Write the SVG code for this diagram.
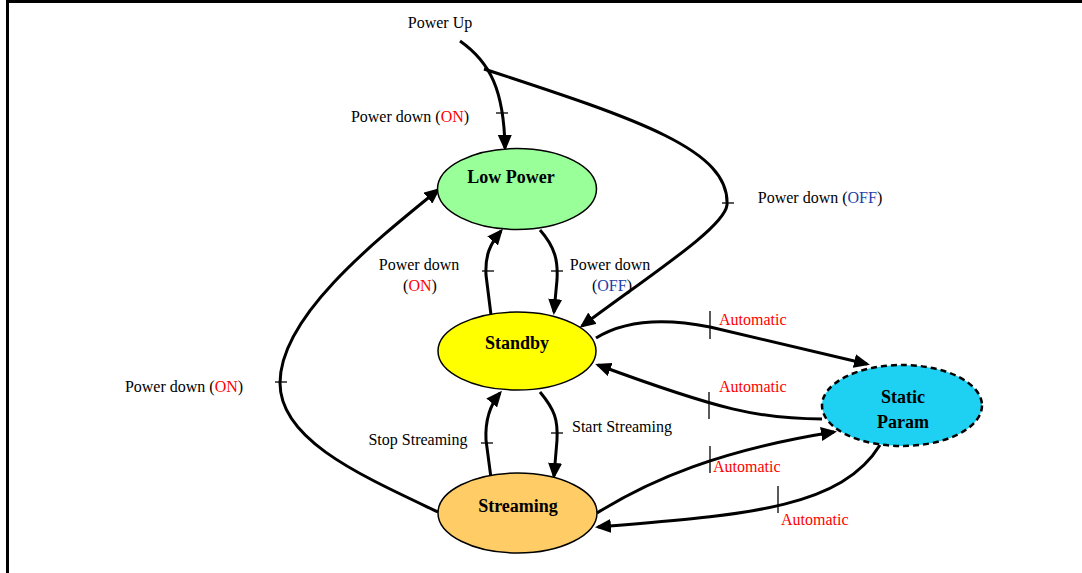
<svg xmlns="http://www.w3.org/2000/svg" width="1082" height="573" viewBox="0 0 1082 573">
  <style>
    .lbl { font-family: "Liberation Serif", "Times New Roman", serif; font-size: 16px; fill: #000; }
    .node-txt { font-family: "Liberation Serif", "Times New Roman", serif; font-size: 18px; font-weight: bold; fill: #000; text-anchor: middle; }
    .on { fill: #ff0000; }
    .off { fill: #2040a8; }
    .auto { fill: #ff0000; }
    .state { stroke: #000; stroke-width: 1.5; }
    .edge { fill: none; stroke: #000; stroke-width: 3; marker-end: url(#arrow); }
    .edge-plain { fill: none; stroke: #000; stroke-width: 3; }
    .tick { stroke: #000; stroke-width: 1.3; }
    .frame { stroke: #000; stroke-width: 3; }
  </style>
  <defs>
    <marker id="arrow" markerUnits="userSpaceOnUse" markerWidth="16" markerHeight="14" viewBox="0 0 16 14" refX="13" refY="7" orient="auto">
      <path d="M0,0 L16,7 L0,14 Z" fill="#000"/>
    </marker>
  </defs>

  <rect width="1082" height="573" fill="#fff"/>
  <!-- page frame -->
  <line class="frame" x1="6" y1="1.5" x2="1082" y2="1.5"/>
  <line class="frame" x1="7.5" y1="0" x2="7.5" y2="573"/>

  <!-- transitions -->
  <g id="connectors">
    <!-- power up entry -->
    <path class="edge" d="M460,41 C490,62 504,90 505,148"/>
    <line class="tick" x1="496" y1="113" x2="508" y2="113"/>
    <!-- power down (OFF) from power-up branch to standby -->
    <path class="edge" d="M484,69 C640,120 730,150 727,205 C724,228 650,275 582,326"/>
    <line class="tick" x1="722" y1="203" x2="734" y2="203"/>
    <!-- low power -> standby -->
    <path class="edge" d="M540,230 C556,248 558,262 557,280 L554,312"/>
    <line class="tick" x1="551" y1="271" x2="563" y2="271"/>
    <!-- standby -> low power -->
    <path class="edge" d="M491,315 L486,275 C485,255 490,244 501,231"/>
    <line class="tick" x1="482" y1="271" x2="494" y2="271"/>
    <!-- standby -> streaming -->
    <path class="edge" d="M540,392 C555,410 558,420 557,440 L554,476"/>
    <line class="tick" x1="551" y1="433" x2="563" y2="433"/>
    <!-- streaming -> standby -->
    <path class="edge" d="M491,478 L486,440 C485,420 490,405 500,393"/>
    <line class="tick" x1="481" y1="443" x2="493" y2="443"/>
    <!-- streaming -> low power -->
    <path class="edge" d="M438,512 C360,475 280,440 280,383 C280,318 370,245 438,190"/>
    <line class="tick" x1="275" y1="382" x2="287" y2="382"/>
    <!-- standby -> static param -->
    <path class="edge" d="M596,338 C625,320 665,318 710,327 L867,364"/>
    <line class="tick" x1="710" y1="311" x2="710" y2="339"/>
    <!-- static param -> standby -->
    <path class="edge" d="M822,419 C760,419 720,410 598,365"/>
    <line class="tick" x1="709" y1="392" x2="709" y2="419"/>
    <!-- streaming -> static param -->
    <path class="edge" d="M597,513 C650,480 720,450 834,432"/>
    <line class="tick" x1="710" y1="446" x2="710" y2="473"/>
    <!-- static param -> streaming -->
    <path class="edge" d="M880,445 C840,510 740,515 598,527"/>
    <line class="tick" x1="778" y1="486" x2="778" y2="513"/>
  </g>

  <!-- transition labels -->
  <g id="labels">
    <text class="lbl" x="440" y="28" text-anchor="middle">Power Up</text>
    <text class="lbl" x="410" y="122" text-anchor="middle">Power down (<tspan class="on">ON</tspan>)</text>
    <text class="lbl" x="820" y="203" text-anchor="middle">Power down (<tspan class="off">OFF</tspan>)</text>
    <text class="lbl" x="419" y="270" text-anchor="middle">Power down</text>
    <text class="lbl" x="420" y="291" text-anchor="middle">(<tspan class="on">ON</tspan>)</text>
    <text class="lbl" x="610" y="270" text-anchor="middle">Power down</text>
    <text class="lbl" x="612" y="291" text-anchor="middle">(<tspan class="off">OFF</tspan>)</text>
    <text class="lbl" x="184" y="392" text-anchor="middle">Power down (<tspan class="on">ON</tspan>)</text>
    <text class="lbl" x="418" y="445" text-anchor="middle">Stop Streaming</text>
    <text class="lbl" x="622" y="432" text-anchor="middle">Start Streaming</text>
    <text class="lbl auto" x="719" y="325">Automatic</text>
    <text class="lbl auto" x="719" y="392">Automatic</text>
    <text class="lbl auto" x="713" y="472">Automatic</text>
    <text class="lbl auto" x="781" y="525">Automatic</text>
  </g>

  <!-- states -->
  <g id="low-power">
    <ellipse class="state" cx="517" cy="189" rx="79.5" ry="40.5" fill="#99ff99"/>
    <text class="node-txt" x="511" y="183">Low Power</text>
  </g>
  <g id="standby">
    <ellipse class="state" cx="517" cy="351" rx="79" ry="39" fill="#ffff00"/>
    <text class="node-txt" x="517" y="349">Standby</text>
  </g>
  <g id="streaming">
    <ellipse class="state" cx="517.5" cy="513" rx="79.5" ry="40" fill="#ffcc66"/>
    <text class="node-txt" x="518" y="512">Streaming</text>
  </g>
  <g id="static-param">
    <ellipse cx="902" cy="405.5" rx="80" ry="40.5" fill="#1ed0f2" stroke="#000" stroke-width="2.5" stroke-dasharray="6 4"/>
    <text class="node-txt" x="903" y="403">Static</text>
    <text class="node-txt" x="903" y="428">Param</text>
  </g>
</svg>
